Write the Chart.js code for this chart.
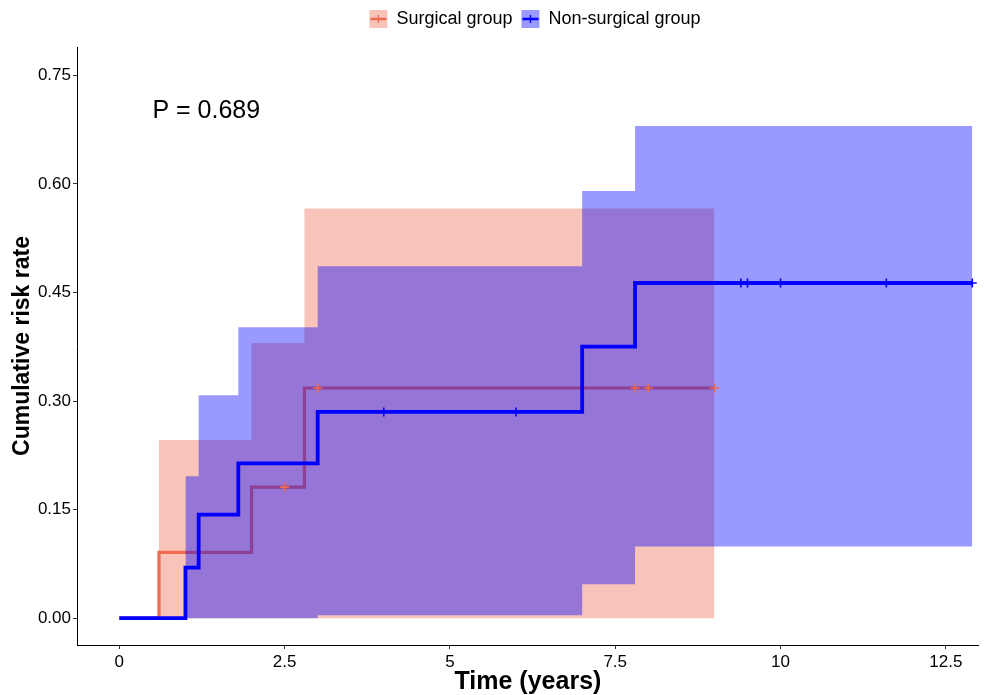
<!DOCTYPE html>
<html>
<head>
<meta charset="utf-8">
<script src="https://cdn.jsdelivr.net/npm/chart.js@4.4.1/dist/chart.umd.min.js"></script>
<style>
  html, body { margin: 0; padding: 0; background: #fff; }
  canvas { display: block; }
</style>
</head>
<body>
<canvas id="riskChart" width="985" height="695"></canvas>
<script>
// Surgical group: cumulative risk steps, 95% band and censor marks
const surgTimes = [0, 0.6, 2.0, 2.8, 9.0];
const surgRisk = [0, 0.091, 0.181, 0.318, 0.318];
const surgBandTimes = [0.6, 2.0, 2.8, 9.0];
const surgUpper = [0.246, 0.380, 0.566, 0.566];
const surgLower = [0, 0, 0, 0];
const surgCensorTimes = [2.5, 3.0, 7.8, 8.0, 9.0];
const surgCensorRisk = [0.181, 0.318, 0.318, 0.318, 0.318];

// Non-surgical group
const nonTimes = [0, 1.0, 1.2, 1.8, 3.0, 7.0, 7.8, 12.9];
const nonRisk = [0, 0.070, 0.143, 0.214, 0.285, 0.375, 0.463, 0.463];
const nonBandTimes = [1.0, 1.2, 1.8, 3.0, 7.0, 7.8, 12.9];
const nonUpper = [0.196, 0.308, 0.402, 0.486, 0.590, 0.680, 0.680];
const nonLower = [0, 0, 0, 0.004, 0.047, 0.099, 0.099];
const nonCensorTimes = [4.0, 6.0, 9.4, 9.5, 10.0, 11.6, 12.9];
const nonCensorRisk = [0.285, 0.285, 0.463, 0.463, 0.463, 0.463, 0.463];

const groupLabels = ["Surgical group", "Non-surgical group"];
const xTicks = [0, 2.5, 5, 7.5, 10, 12.5];
const xTickLabels = ["0", "2.5", "5", "7.5", "10", "12.5"];
const yTicks = [0, 0.15, 0.30, 0.45, 0.60, 0.75];
const yTickLabels = ["0.00", "0.15", "0.30", "0.45", "0.60", "0.75"];
const pText = "P = 0.689";

const surgColor = "#EE6A50";
const surgFill = "rgba(238, 106, 80, 0.4)";
const nonColor = "#0000FF";
const nonFill = "rgba(0, 0, 255, 0.4)";
const fontFamily = "'Liberation Sans', Arial, sans-serif";

function pts(xs, ys) {
    return xs.map((x, i) => ({ x: x, y: ys[i] }));
}

function stepLine(label, xs, ys, color, width) {
    return {
        label: label, data: pts(xs, ys), stepped: true,
        borderColor: color, borderWidth: width, pointRadius: 0, fill: false
    };
}

function bandEdge(label, xs, ys, fill, fillTo) {
    return {
        label: label, data: pts(xs, ys), stepped: true,
        borderWidth: 0, borderColor: "rgba(0,0,0,0)", pointRadius: 0,
        backgroundColor: fill, fill: fillTo
    };
}

function censors(label, xs, ys, color) {
    return {
        label: label, data: pts(xs, ys), showLine: false,
        pointStyle: "cross", pointRadius: 4.5, pointBorderWidth: 1.6,
        pointBorderColor: color, borderColor: color
    };
}

// legend needs a fixed height so the plot top sits where the reference has it,
// and it sits a little right of the panel centre
const legendSpace = {
    id: "legendSpace",
    beforeLayout(chart) {
        const lg = chart.legend;
        if (lg && !lg._fixedFit) {
            const fit = lg.fit;
            lg.fit = function () { fit.call(this); this.height = 46; };
            lg._fixedFit = true;
        }
    },
    afterLayout(chart) {
        if (chart.legend) {
            chart.legend.left += 7;
            chart.legend.right += 7;
        }
    }
};

// line + censor tick drawn over each legend key, and the p-value text
const extras = {
    id: "extras",
    afterDraw(chart) {
        const ctx = chart.ctx;
        const cols = [surgColor, nonColor];
        ctx.save();
        chart.legend.legendHitBoxes.forEach((hb, i) => {
            const cy = hb.top + hb.height / 2;
            const cx = hb.left + 9;
            ctx.strokeStyle = cols[i];
            ctx.lineWidth = 2.5;
            ctx.beginPath();
            ctx.moveTo(hb.left + 1, cy);
            ctx.lineTo(hb.left + 17, cy);
            ctx.stroke();
            ctx.lineWidth = 1.4;
            ctx.beginPath();
            ctx.moveTo(cx, cy - 4);
            ctx.lineTo(cx, cy + 4);
            ctx.stroke();
        });
        const x = chart.scales.x.getPixelForValue(0.5);
        const y = chart.scales.y.getPixelForValue(0.70);
        ctx.fillStyle = "#000";
        ctx.font = "25px " + fontFamily;
        ctx.textAlign = "left";
        ctx.textBaseline = "middle";
        ctx.fillText(pText, x, y);
        ctx.restore();
    }
};

new Chart(document.getElementById("riskChart"), {
    type: "line",
    data: {
        datasets: [
            censors("surgCensor", surgCensorTimes, surgCensorRisk, surgColor),
            censors("nonCensor", nonCensorTimes, nonCensorRisk, nonColor),
            stepLine(groupLabels[1], nonTimes, nonRisk, nonColor, 3.8),
            bandEdge("nonUpper", nonBandTimes, nonUpper, nonFill, "+1"),
            bandEdge("nonLower", nonBandTimes, nonLower, nonFill, false),
            stepLine(groupLabels[0], surgTimes, surgRisk, surgColor, 3.2),
            bandEdge("surgUpper", surgBandTimes, surgUpper, surgFill, "+1"),
            bandEdge("surgLower", surgBandTimes, surgLower, surgFill, false)
        ]
    },
    options: {
        responsive: false,
        animation: false,
        devicePixelRatio: 1,
        layout: { padding: { top: 1, right: 2, left: 0, bottom: 0 } },
        plugins: {
            tooltip: { enabled: false },
            legend: {
                position: "top",
                fullSize: false,
                labels: {
                    boxWidth: 18,
                    boxHeight: 18,
                    padding: 9,
                    color: "#000",
                    font: { family: fontFamily, size: 18 },
                    generateLabels: () => [
                        { text: groupLabels[0], fillStyle: surgFill, strokeStyle: "rgba(0,0,0,0)", lineWidth: 0, hidden: false },
                        { text: groupLabels[1], fillStyle: nonFill, strokeStyle: "rgba(0,0,0,0)", lineWidth: 0, hidden: false }
                    ]
                }
            }
        },
        scales: {
            x: {
                type: "linear",
                min: -0.64,
                max: 13.0,
                afterBuildTicks: s => { s.ticks = xTicks.map(v => ({ value: v })); },
                afterFit: s => { s.height = 50; s.paddingLeft = 0; s.paddingRight = 0; },
                grid: { drawOnChartArea: false, drawTicks: true, tickLength: 4, color: "#333" },
                border: { display: true, color: "#000", width: 1 },
                ticks: {
                    color: "#000", padding: 3, maxRotation: 0,
                    font: { family: fontFamily, size: 17 },
                    callback: (v, i) => xTickLabels[i]
                },
                title: {
                    display: true, text: "Time (years)", color: "#000",
                    font: { family: fontFamily, size: 25, weight: "bold", lineHeight: 1 },
                    padding: { top: 0, bottom: 0 }
                }
            },
            y: {
                type: "linear",
                min: -0.037,
                max: 0.789,
                afterBuildTicks: s => { s.ticks = yTicks.map(v => ({ value: v })); },
                afterFit: s => { s.width = 77; },
                grid: { drawOnChartArea: false, drawTicks: true, tickLength: 4, color: "#333" },
                border: { display: true, color: "#000", width: 1 },
                ticks: {
                    color: "#000", padding: 2,
                    font: { family: fontFamily, size: 17 },
                    callback: (v, i) => yTickLabels[i]
                },
                title: {
                    display: true, text: "Cumulative risk rate", color: "#000",
                    font: { family: fontFamily, size: 23, weight: "bold" },
                    padding: { top: 9, bottom: 0 }
                }
            }
        }
    },
    plugins: [legendSpace, extras]
});
</script>
</body>
</html>
